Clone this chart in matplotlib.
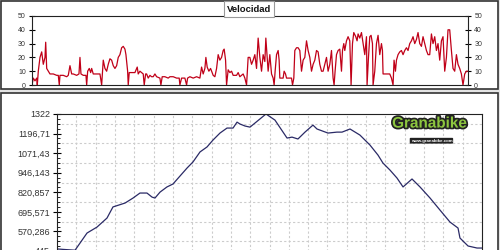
import matplotlib
matplotlib.use("Agg")
import matplotlib.pyplot as plt
import matplotlib.patheffects as pe
from matplotlib.patches import Rectangle
from matplotlib.ticker import FixedLocator, AutoMinorLocator, FuncFormatter

plt.rcParams["font.family"] = ["Liberation Sans", "DejaVu Sans"]

# speed trace (km, km/h)
speed_km = [
    0.0, 0.13, 0.30, 0.47, 0.53, 0.63, 0.80, 0.97, 1.13, 1.30, 1.37, 1.47, 1.63, 1.80,
    2.13, 2.47, 2.63, 2.73, 2.80, 3.13, 3.47, 3.63, 3.80, 3.97, 4.13, 4.47, 4.70, 4.80,
    4.90, 5.13, 5.40, 5.47, 5.57, 5.73, 5.87, 5.97, 6.13, 6.47, 6.80, 6.97, 7.13, 7.30,
    7.47, 7.63, 7.80, 7.97, 8.13, 8.30, 8.47, 8.63, 8.80, 8.97, 9.13, 9.30, 9.40, 9.57,
    9.63, 9.73, 9.97, 10.30, 10.53, 10.63, 10.80, 10.97, 11.13, 11.23, 11.37, 11.47,
    11.63, 11.80, 11.97, 12.13, 12.30, 12.47, 12.80, 12.90, 13.03, 13.30, 13.63, 13.80,
    14.13, 14.47, 14.73, 14.80, 14.97, 15.30, 15.47, 15.57, 15.80, 16.13, 16.47, 16.80,
    16.97, 17.13, 17.30, 17.40, 17.53, 17.70, 17.87, 18.13, 18.30, 18.47, 18.63, 18.80,
    18.97, 19.13, 19.23, 19.37, 19.47, 19.63, 19.80, 19.97, 20.13, 20.47, 20.63, 20.80,
    21.13, 21.30, 21.47, 21.63, 21.80,
    21.97, 22.13, 22.30, 22.47, 22.63, 22.80, 22.97, 23.13, 23.30, 23.40, 23.53, 23.63,
    23.80, 23.97, 24.13, 24.23, 24.33, 24.47, 24.63, 24.73, 24.80, 24.97, 25.13, 25.23,
    25.37, 25.47, 25.63, 25.97, 26.07, 26.20, 26.30, 26.47, 26.63, 26.80, 26.97, 27.13,
    27.30, 27.47, 27.63, 27.80, 27.97, 28.13, 28.30, 28.47, 28.63, 28.80, 28.97, 29.13,
    29.30, 29.47, 29.63, 29.80, 29.97, 30.13, 30.23, 30.33, 30.47, 30.63, 30.80, 30.97,
    31.07, 31.20, 31.30, 31.47, 31.63, 31.80, 31.93, 32.07, 32.20, 32.40, 32.53, 32.63,
    32.80, 32.97, 33.13, 33.30, 33.47, 33.53, 33.67, 33.80, 33.93, 34.07, 34.13, 34.30,
    34.47, 34.63, 34.80, 34.97, 35.07, 35.13, 35.47, 35.80, 35.97, 36.13, 36.23, 36.37,
    36.47, 36.63, 36.80, 36.97, 37.13, 37.30, 37.47, 37.63, 37.80, 37.97, 38.13, 38.30,
    38.47, 38.63, 38.80, 38.97, 39.13, 39.30, 39.47, 39.63, 39.80, 39.97, 40.13, 40.30,
    40.47, 40.63, 40.80, 40.97, 41.13, 41.30, 41.47, 41.63, 41.80, 41.97, 42.13, 42.30,
    42.47, 42.63, 42.80, 42.97, 43.13, 43.30, 43.47, 43.63,
]
speed_kmh = [
    0, 5, 3, 5, 0, 10, 20, 24, 15, 20, 31, 12, 10, 8,
    8, 7, 7, 0, 7, 7, 6, 7, 14, 8, 8, 7, 8, 20,
    8, 7, 7, 0, 10, 12, 9, 12, 8, 8, 8, 0, 18, 12,
    10, 15, 19, 18, 14, 12, 14, 20, 22, 27, 28, 26, 22, 10,
    0, 9, 9, 9, 13, 8, 10, 9, 8, 0, 8, 8,
    5, 7, 6, 6, 8, 6, 5, 0, 6, 6, 5, 6,
    6, 5, 5, 0, 5, 5, 0, 5, 6, 5, 6, 5,
    13, 8, 12, 20, 13, 10, 12, 7, 6, 12, 22, 18,
    20, 25, 26, 18, 0, 11, 9, 10, 7, 7, 9, 6,
    8, 5, 0, 20, 20,
    15, 18, 22, 12, 34, 20, 10, 22, 17, 34, 20, 10,
    22, 8, 5, 0, 10, 22, 25, 18, 5, 5, 5, 10,
    8, 5, 5, 5, 0, 5, 25, 27, 27, 25, 10, 18,
    20, 32, 25, 20, 10, 15, 18, 25, 24, 15, 10, 10,
    15, 20, 10, 15, 25, 5, 0, 10, 22, 25, 26, 10,
    25, 30, 25, 32, 35, 32, 0, 30, 38, 35, 32, 37,
    34, 38, 30, 22, 35, 0, 20, 35, 36, 30, 0, 10,
    30, 36, 22, 30, 25, 8, 8, 8, 5, 0, 18, 10,
    18, 22, 24, 25, 22, 25, 27, 25, 30, 32, 35, 30,
    33, 38, 30, 28, 35, 30, 25, 22, 22, 37, 30, 35,
    25, 30, 18, 32, 35, 10, 20, 40, 40, 25, 12, 10,
    22, 15, 12, 8, 0, 8, 10, 10,
]

# elevation profile (km, m)
elev_km = [
    0.0, 1.85, 3.08, 4.10, 5.13, 5.74, 6.98, 7.80, 8.51, 9.23, 9.75, 10.05, 10.57,
    11.28, 11.90, 12.62, 13.34, 13.95, 14.67, 15.39, 16.00, 16.72, 17.44, 18.06,
    18.47, 18.77, 19.29, 19.80, 21.44, 22.36, 23.60, 24.11, 24.72, 25.44, 26.26,
    26.67, 27.80, 28.72, 29.24, 30.06, 31.08, 32.11, 32.93, 33.44, 34.16, 34.88,
    35.50, 36.42, 37.24, 38.27, 39.29, 40.32, 41.14, 41.34, 42.17, 43.09, 43.60,
]
elev_m = [
    458, 450, 560, 598, 656, 727, 752, 784, 816, 816, 790, 784, 822,
    855, 874, 925, 976, 1015, 1079, 1111, 1155, 1200, 1232, 1232,
    1270, 1258, 1245, 1238, 1322, 1283, 1168, 1174, 1162, 1206, 1251,
    1226, 1200, 1206, 1206, 1226, 1187, 1123, 1059, 1008, 963, 912,
    855, 906, 855, 784, 707, 630, 592, 528, 477, 464, 464,
]

speed_ticks = [0, 10, 20, 30, 40, 50]
elev_min, elev_max = 445, 1322
elev_ticks = [elev_min + i * (elev_max - elev_min) / 7 for i in range(8)]

fig = plt.figure(figsize=(5, 2.5), dpi=100)
fig.patch.set_facecolor("#e4e4e4")

# panel frames (behind the axes)
fig.patches.append(Rectangle((0.002, 0.646), 0.994, 0.352, transform=fig.transFigure,
                             facecolor="white", edgecolor="#333333", lw=1.2, zorder=-5))
fig.patches.append(Rectangle((0.002, -0.01), 0.994, 0.638, transform=fig.transFigure,
                             facecolor="white", edgecolor="#333333", lw=1.2, zorder=-5))

# --- speed panel ---
ax1 = fig.add_axes([0.064, 0.66, 0.872, 0.276])
ax1.set_zorder(2)
ax1.plot(speed_km, speed_kmh, color="#c00018", lw=0.9)
ax1.set_xlim(0, 43.63)
ax1.set_ylim(0, 50)
ax1.set_xticks([])
ax1.set_yticks(speed_ticks)
ax1.tick_params(axis="y", which="both", left=True, right=True, labelleft=True,
                labelright=True, direction="inout", length=5, width=0.8,
                labelsize=5, labelcolor="#333333", pad=2)
for s in ax1.spines.values():
    s.set_color("#222222")
    s.set_linewidth(0.8)
ax1.patch.set_alpha(0)

fig.text(0.498, 0.964, "Velocidad", ha="center", va="center", fontsize=6.8,
         fontweight="bold", color="#111111", zorder=5,
         bbox=dict(boxstyle="square,pad=0.35", facecolor="white",
                   edgecolor="#999999", lw=0.8))

# --- elevation panel ---
ax2 = fig.add_axes([0.114, -0.004, 0.85, 0.548])
ax2.set_zorder(2)
ax2.patch.set_alpha(0)
ax2.plot(elev_km, elev_m, color="#2a2a66", lw=0.9)
ax2.set_xlim(0, 43.6)
ax2.set_ylim(elev_min, elev_max)
ax2.yaxis.set_major_locator(FixedLocator(elev_ticks))
ax2.yaxis.set_major_formatter(FuncFormatter(lambda v, p: f"{v:.6g}".replace(".", ",")))
ax2.yaxis.set_minor_locator(AutoMinorLocator(4))
ax2.set_xticks([])

# grid: vertical every 1/22 of the distance, horizontal midway between labels
grid_x = [43.6 * i / 22 for i in range(1, 22)]
grid_y = [(elev_ticks[i] + elev_ticks[i + 1]) / 2 for i in range(7)]
for gx in grid_x:
    ax2.axvline(gx, color="#cccccc", lw=0.8, ls=(0, (2, 2)), zorder=0)
for gy in grid_y:
    ax2.axhline(gy, color="#cccccc", lw=0.8, ls=(0, (2, 2)), zorder=0)

ax2.tick_params(axis="y", which="major", direction="inout", length=6, width=0.8,
                labelsize=6.5, labelcolor="#333333", pad=2)
ax2.tick_params(axis="y", which="minor", direction="in", length=2.5, width=0.6)
for s in ax2.spines.values():
    s.set_color("#222222")
    s.set_linewidth(0.8)

# logo
ax2.text(0.965, 0.93, "Granabike", transform=ax2.transAxes, ha="right", va="center",
         fontsize=11, fontweight="bold", color="#8dc63f",
         family=["Liberation Sans Narrow", "Liberation Sans"],
         path_effects=[pe.withStroke(linewidth=2.5, foreground="#222222")])
ax2.text(0.93, 0.805, "www.granabike.com", transform=ax2.transAxes, ha="right",
         va="center", fontsize=3.2, fontweight="bold", color="white",
         bbox=dict(boxstyle="round,pad=0.2", facecolor="#222222", edgecolor="none"))

fig.savefig("out.png", dpi=100, facecolor=fig.get_facecolor())
